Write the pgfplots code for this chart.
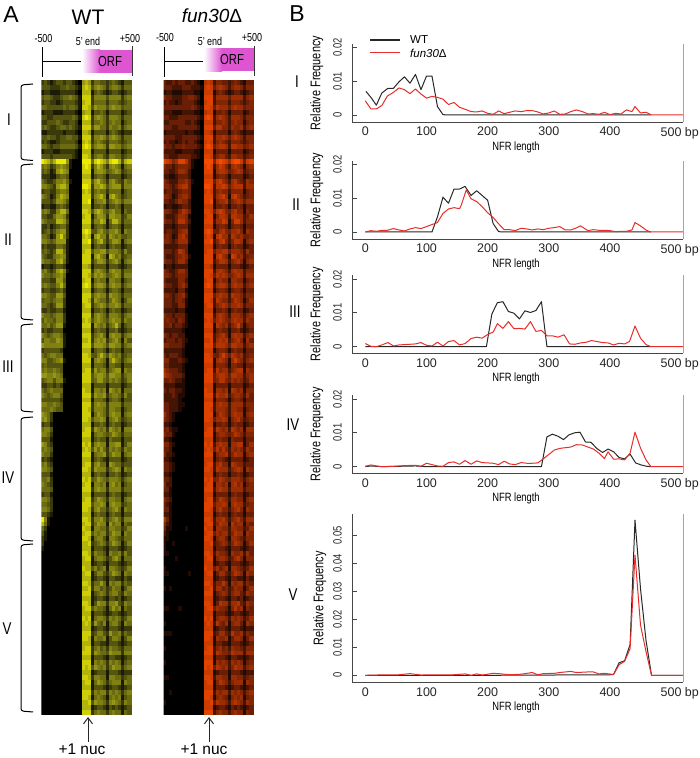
\documentclass[border=0pt]{standalone}
\usepackage{pgfplots}
\usepackage{pgfplotstable}
\pgfplotsset{compat=1.18}
\usepackage{fontspec}
\setmainfont{Liberation Sans}
\usetikzlibrary{arrows.meta}
\newcommand\cond[1]{\scalebox{0.78}[1]{#1}}
\definecolor{axg}{RGB}{70,70,70}
\definecolor{rg}{RGB}{165,165,165}
\definecolor{wtc}{RGB}{40,40,40}
\definecolor{muc}{RGB}{232,45,40}
\definecolor{pk}{RGB}{222,85,210}
\pgfplotstableread[header=false]{
2 3 2 1 2 3 3 2 3 3 2 1 0 0  6 7 6  2  4 4 3 3  2  3 4 3 2  1  3 3  3 2 2 3 2 3 3 2 2 3 2 1 0 0
3 3 3 2 2 2 3 3 4 3 3 2 1 0  7 8 7  3  5 6 5 4  2  4 5 5 4  2  4 4  3 3 3 2 2 2 3 3 3 2 2 2 1 0
1 2 2 1 1 1 2 2 2 2 2 1 0 0  7 7 7  1  3 4 3 2  1  2 3 3 2  1  2 3  1 2 2 1 1 1 2 2 2 2 1 1 0 0
3 4 4 3 2 2 3 4 4 5 4 3 1 0  8 8 8  2  5 5 5 5  3  5 5 5 5  2  4 5  4 3 3 2 2 2 3 3 4 4 3 2 0 0
2 3 3 2 2 1 2 3 3 3 3 2 1 0  7 8 8  2  4 4 4 4  2  4 4 4 3  2  3 4  2 3 2 2 1 2 3 3 3 3 2 1 0 0
4 4 3 3 3 3 3 4 3 4 4 3 1 0  8 8 7  3  6 5 5 5  3  5 6 5 5  3  4 4  3 3 3 3 3 3 3 3 3 4 3 2 1 0
1 2 2 2 1 1 1 2 2 2 2 1 0 0  6 7 7  1  3 3 4 3  1  3 3 3 3  1  2 3  2 2 2 1 1 1 2 2 2 2 1 1 0 0
3 3 2 2 3 3 3 3 3 3 4 3 1 0  8 9 8  2  5 6 5 4  2  5 5 5 4  2  4 4  3 3 2 2 2 3 3 3 3 3 3 2 1 0
2 2 3 3 3 4 3 2 2 3 3 2 0 0  7 7 7  2  4 4 5 4  2  4 5 4 4  1  3 4  2 2 3 3 3 3 3 2 2 3 2 1 0 0
3 4 3 2 2 3 4 4 3 4 3 2 1 0  8 8 8  3  6 6 4 4  2  5 4 4 5  2  4 5  3 3 3 2 2 3 3 3 3 3 3 2 0 0
1 1 2 2 2 2 2 1 2 2 2 1 0 0  7 7 6  1  3 3 3 3  1  3 4 3 2  1  2 2  1 2 2 2 2 2 2 1 2 2 1 1 0 0
3 3 4 3 3 2 3 3 4 4 3 3 1 0  8 8 8  2  5 5 6 5  3  5 6 5 4  2  4 4  3 3 3 3 2 2 3 3 3 3 3 2 1 0
2 3 2 1 1 2 3 3 3 3 3 2 0 0  7 8 7  2  4 5 4 3  2  4 4 4 3  2  3 4  2 3 2 2 1 2 3 2 3 3 2 1 0 0
4 4 3 2 3 3 4 4 4 4 4 3 1 0  8 9 8  3  5 6 6 5  2  6 6 5 5  3  4 5  4 3 3 2 3 3 4 3 3 3 3 2 1 0
1 2 2 2 1 1 2 2 2 2 2 1 0 0  7 7 7  1  3 3 3 3  1  3 3 3 3  1  2 3  2 2 2 2 1 1 2 2 2 2 1 1 0 0
3 3 3 2 3 3 3 3 3 3 2 1 0 0  8 8 7  2  4 5 5 3  2  5 5 4 4  2  3 4  3 3 2 2 2 3 3 3 3 2 2 1 0 0
9 8 7 5 7 9 9 9 6 1 0 0 0 0  9 9 9  4  8 9 8 7  5  8 9 9 7  3  7 8  8 7 6 4 5 8 8 6 3 1 0 0 0 0
4 5 4 2 3 5 6 5 4 1 0 0 0 0  8 9 8  2  5 7 6 4  2  5 6 5 4  1  4 5  4 3 3 2 3 4 4 4 3 1 0 0 0 0
3 4 3 1 2 6 7 6 5 0 0 0 0 0  8 8 8  1  5 6 6 5  3  4 5 6 5  2  3 4  3 3 2 2 3 5 5 4 2 0 0 0 0 0
2 2 2 1 1 3 4 4 3 0 0 0 0 0  7 7 7  1  3 4 4 3  1  3 3 3 3  1  2 3  2 2 1 1 2 3 3 3 2 0 0 0 0 0
4 3 2 2 3 5 5 6 4 1 0 0 0 0  8 8 8  3  6 7 5 4  2  5 6 4 3  2  5 4  4 3 2 2 2 4 4 5 3 1 0 0 0 0
5 5 4 3 2 6 7 7 5 0 0 0 0 0  9 9 8  2  6 6 7 6  3  5 6 6 6  2  5 5  4 4 3 2 3 5 6 6 3 0 0 0 0 0
2 3 3 2 2 4 5 5 4 0 0 0 0 0  7 8 7  2  4 5 4 4  2  4 4 4 4  1  3 4  2 3 3 2 2 3 4 4 3 0 0 0 0 0
5 4 3 1 2 5 7 6 5 0 0 0 0 0  8 8 8  2  5 6 7 5  1  6 7 5 4  2  3 4  4 4 3 1 2 4 5 5 3 0 0 0 0 0
3 3 3 2 3 6 6 5 3 0 0 0 0 0  8 8 9  1  4 5 5 6  2  4 5 6 5  3  5 5  3 3 2 2 3 5 4 4 2 0 0 0 0 0
1 2 2 1 1 3 4 3 2 0 0 0 0 0  7 7 7  1  3 3 4 3  1  3 3 4 3  1  3 3  1 2 2 1 1 2 3 3 2 0 0 0 0 0
4 5 4 2 2 5 7 7 4 0 0 0 0 0  8 8 7  3  6 7 6 4  3  5 6 4 4  1  4 3  4 4 3 2 2 4 6 5 3 0 0 0 0 0
3 3 2 2 4 6 6 5 2 0 0 0 0 0  7 8 8  1  4 6 6 5  2  6 6 5 5  2  3 5  3 2 2 2 3 5 5 4 1 0 0 0 0 0
5 4 3 3 3 7 7 6 3 0 0 0 0 0  8 8 8  2  5 5 7 6  1  4 7 7 5  2  4 4  4 3 3 2 3 6 6 4 2 0 0 0 0 0
2 2 3 1 2 3 4 4 2 0 0 0 0 0  7 7 7  1  3 4 4 3  1  3 4 4 3  1  3 3  2 2 2 1 2 3 3 3 1 0 0 0 0 0
2 3 4 2 3 5 6 6 2 0 0 0 0 0  8 9 8  3  3 5 6 4  3  5 5 6 4  1  5 4  2 3 3 2 2 4 5 5 1 0 0 0 0 0
4 4 3 1 2 6 8 5 2 0 0 0 0 0  7 8 7  1  6 7 5 5  2  6 5 4 5  3  3 4  3 4 3 1 2 5 6 4 1 0 0 0 0 0
5 5 4 3 4 6 6 6 1 0 0 0 0 0  8 8 9  2  4 6 7 4  2  4 6 6 5  1  4 5  4 4 3 2 3 5 5 5 1 0 0 0 0 0
2 3 2 2 2 4 4 3 1 0 0 0 0 0  7 7 7  1  3 4 3 3  1  3 4 3 3  1  2 3  2 2 2 2 2 3 3 3 0 0 0 0 0 0
3 4 3 2 3 7 7 4 1 0 0 0 0 0  7 8 8  3  5 5 6 6  3  5 5 5 4  2  5 3  3 3 3 2 3 6 5 3 0 0 0 0 0 0
4 3 2 2 4 5 6 5 1 0 0 0 0 0  8 8 8  1  6 7 5 4  1  7 6 4 5  2  3 4  3 2 2 2 3 4 5 4 1 0 0 0 0 0
5 4 4 3 3 6 7 4 1 0 0 0 0 0  8 8 8  2  4 6 6 5  2  4 5 6 4  1  4 5  4 3 3 2 3 5 5 3 0 0 0 0 0 0
1 2 2 1 2 3 3 2 0 0 0 0 0 0  7 7 6  1  3 3 3 3  1  3 3 3 2  1  2 3  1 2 2 1 2 2 2 2 0 0 0 0 0 0
4 5 3 2 3 6 7 5 1 0 0 0 0 0  8 8 8  2  5 6 5 4  2  5 6 5 5  2  4 4  4 3 2 2 3 5 5 3 0 0 0 0 0 0
5 4 4 3 4 5 6 4 0 0 0 0 0 0  8 8 7  3  6 5 6 5  3  4 5 6 5  2  5 5  4 4 3 2 3 4 4 3 0 0 0 0 0 0
3 3 3 2 2 6 6 3 0 0 0 0 0 0  7 8 8  1  4 5 4 4  1  5 5 4 4  1  3 4  3 2 2 2 2 4 4 2 0 0 0 0 0 0
4 5 4 3 3 5 7 4 0 0 0 0 0 0  8 9 8  2  5 6 6 5  2  5 6 5 5  2  4 5  4 3 3 2 2 4 5 3 0 0 0 0 0 0
2 3 3 2 2 3 4 2 0 0 0 0 0 0  7 7 7  1  3 4 4 3  1  3 4 4 3  1  3 3  2 2 2 2 1 3 3 1 0 0 0 0 0 0
5 5 4 3 3 6 6 3 0 0 0 0 0 0  8 8 8  3  5 6 5 5  2  6 5 5 4  2  4 4  4 4 3 2 3 4 5 2 0 0 0 0 0 0
3 4 4 3 4 5 5 2 0 0 0 0 0 0  8 8 7  2  6 5 4 4  2  4 6 5 4  1  3 5  3 3 3 2 3 4 3 1 0 0 0 0 0 0
4 4 3 2 3 6 6 2 0 0 0 0 0 0  7 8 8  2  4 5 6 5  3  5 5 6 5  2  4 4  3 3 3 2 2 4 4 1 0 0 0 0 0 0
2 2 3 2 2 3 3 1 0 0 0 0 0 0  7 7 7  1  3 3 4 3  1  3 4 3 3  1  2 3  2 2 2 2 1 2 2 0 0 0 0 0 0 0
5 4 4 3 4 5 5 2 0 0 0 0 0 0  8 8 8  2  5 6 5 4  2  5 5 5 4  2  4 5  4 3 3 2 3 3 3 1 0 0 0 0 0 0
3 5 4 4 3 5 5 2 0 0 0 0 0 0  7 8 7  3  5 6 5 4  3  5 6 5 5  2  5 4  3 4 3 3 2 4 3 1 0 0 0 0 0 0
4 4 5 3 4 6 6 1 0 0 0 0 0 0  8 8 8  1  6 5 4 5  2  4 5 7 4  1  3 4  3 3 4 2 3 3 2 1 0 0 0 0 0 0
2 3 2 2 3 3 3 0 0 0 0 0 0 0  7 7 7  1  3 4 3 3  1  3 3 4 2  1  2 3  2 2 2 2 2 2 1 0 0 0 0 0 0 0
5 4 3 4 5 5 4 1 0 0 0 0 0 0  8 8 8  2  4 5 6 4  1  5 6 5 5  2  4 5  4 3 2 3 3 2 2 0 0 0 0 0 0 0
3 5 5 4 4 6 5 1 0 0 0 0 0 0  7 7 8  2  5 6 5 6  2  4 5 6 4  1  5 3  2 3 3 3 2 3 2 1 0 0 0 0 0 0
6 5 5 5 5 5 5 1 0 0 0 0 0 0  8 8 8  3  6 6 6 5  3  6 6 5 5  2  4 5  4 4 3 3 3 3 2 0 0 0 0 0 0 0
2 3 3 3 3 3 2 0 0 0 0 0 0 0  7 7 7  1  3 4 4 3  1  3 4 3 3  1  3 3  2 2 2 2 2 2 1 0 0 0 0 0 0 0
4 3 4 5 5 4 4 0 0 0 0 0 0 0  8 8 7  3  3 5 7 5  3  6 5 4 5  2  3 4  3 2 3 3 3 2 1 0 0 0 0 0 0 0
5 5 3 3 4 5 6 1 0 0 0 0 0 0  8 8 8  1  5 6 5 4  1  5 7 5 4  2  4 5  4 4 2 2 2 3 2 1 0 0 0 0 0 0
3 4 3 3 3 3 3 0 0 0 0 0 0 0  7 7 7  1  4 4 4 3  1  4 4 3 3  1  3 3  3 3 2 2 2 2 1 0 0 0 0 0 0 0
4 5 4 4 5 4 3 0 0 0 0 0 0 0  7 8 8  2  6 4 5 5  2  4 5 6 6  1  5 4  5 4 3 3 3 2 1 0 0 0 0 0 0 0
6 6 5 5 6 5 4 0 0 0 0 0 0 0  8 8 8  3  5 6 6 5  3  6 6 5 5  2  4 5  6 5 4 3 3 3 2 0 0 0 0 0 0 0
3 4 5 5 3 5 5 1 0 0 0 0 0 0  8 8 8  3  4 6 6 4  3  5 4 5 4  2  3 5  3 3 4 3 2 2 1 0 0 0 0 0 0 0
2 2 3 3 2 3 2 0 0 0 0 0 0 0  7 7 7  1  3 3 3 3  1  3 3 3 3  1  2 3  2 2 2 2 1 1 1 0 0 0 0 0 0 0
4 3 4 5 4 4 4 0 0 0 0 0 0 0  8 7 7  1  5 5 4 5  1  6 5 4 5  1  4 4  3 2 3 3 2 2 1 0 0 0 0 0 0 0
5 4 3 4 5 5 3 0 0 0 0 0 0 0  8 8 8  2  6 5 5 6  2  4 5 5 4  2  5 3  2 2 2 3 2 1 1 0 0 0 0 0 0 0
3 3 3 3 3 3 2 0 0 0 0 0 0 0  7 7 7  1  4 4 4 3  1  3 4 4 3  1  3 3  2 2 2 2 2 1 0 0 0 0 0 0 0 0
5 5 4 4 5 4 3 0 0 0 0 0 0 0  8 8 8  2  5 6 5 5  2  5 5 5 5  2  4 4  3 3 2 2 2 1 1 0 0 0 0 0 0 0
4 4 4 5 4 3 3 0 0 0 0 0 0 0  8 8 7  2  5 5 5 4  2  5 5 4 4  1  3 4  3 3 2 2 2 1 0 0 0 0 0 0 0 0
6 5 4 2 0 0 0 0 0 0 0 0 0 0  8 8 8  1  4 6 5 4  2  5 6 5 5  1  4 5  5 3 2 1 0 0 0 0 0 0 0 0 0 0
5 6 4 2 0 0 0 0 0 0 0 0 0 0  8 8 7  3  5 5 6 5  1  4 5 6 4  2  3 4  4 3 2 1 0 0 0 0 0 0 0 0 0 0
2 3 3 1 0 0 0 0 0 0 0 0 0 0  7 7 7  1  3 3 4 3  1  3 4 3 3  1  2 3  2 2 1 0 0 0 0 0 0 0 0 0 0 0
4 5 5 3 0 0 0 0 0 0 0 0 0 0  7 8 8  2  6 5 4 5  2  6 5 4 5  1  5 5  3 4 2 1 1 0 0 0 0 0 0 0 0 0
5 5 4 2 0 0 0 0 0 0 0 0 0 0  8 8 8  1  4 5 5 4  3  4 6 5 4  2  4 4  4 3 3 1 0 0 0 0 0 0 0 0 0 0
3 3 3 1 0 0 0 0 0 0 0 0 0 0  7 7 7  1  3 4 3 3  1  4 3 3 3  1  3 3  2 2 1 0 0 0 0 0 0 0 0 0 0 0
6 5 3 2 0 0 0 0 0 0 0 0 0 0  8 7 8  2  5 6 5 5  1  5 5 6 6  1  3 5  4 4 2 1 0 0 0 0 0 0 0 0 0 0
4 5 4 3 0 0 0 0 0 0 0 0 0 0  7 8 7  3  6 4 6 4  2  5 4 5 4  2  5 4  3 3 2 0 0 0 0 0 0 0 0 0 0 0
5 4 4 2 0 0 0 0 0 0 0 0 0 0  8 8 8  1  4 5 5 6  2  4 6 5 5  1  4 5  4 2 2 1 0 0 0 0 0 0 0 0 0 0
2 3 2 1 0 0 0 0 0 0 0 0 0 0  7 7 7  1  3 4 3 2  1  3 3 3 3  1  2 3  2 2 1 0 0 0 0 0 0 0 0 0 0 0
4 5 3 2 0 0 0 0 0 0 0 0 0 0  7 8 8  2  5 6 4 4  1  6 5 4 4  2  3 3  3 3 2 1 0 0 0 0 0 0 0 0 0 0
5 5 4 3 0 0 0 0 0 0 0 0 0 0  8 8 7  2  6 5 5 5  2  4 5 6 5  1  5 4  3 3 2 1 0 0 0 0 0 0 0 0 0 0
3 3 3 1 0 0 0 0 0 0 0 0 0 0  7 7 7  1  3 4 3 3  1  3 3 4 3  1  2 3  2 2 1 0 0 0 0 0 0 0 0 0 0 0
4 4 5 2 0 0 0 0 0 0 0 0 0 0  8 7 8  3  4 6 5 4  3  5 5 5 4  2  4 5  3 3 2 0 0 0 0 0 0 0 0 0 0 0
5 4 3 2 0 0 0 0 0 0 0 0 0 0  7 8 8  1  5 5 4 5  1  5 6 4 5  1  3 4  4 2 2 0 0 0 0 0 0 0 0 0 0 0
4 4 4 3 0 0 0 0 0 0 0 0 0 0  8 8 8  2  5 6 5 5  2  5 5 5 5  2  4 4  3 3 1 0 0 0 0 0 0 0 0 0 0 0
2 3 3 1 0 0 0 0 0 0 0 0 0 0  7 7 7  1  3 3 3 3  1  3 4 3 3  1  2 3  2 2 1 0 0 0 0 0 0 0 0 0 0 0
5 5 4 2 0 0 0 0 0 0 0 0 0 0  7 8 8  2  4 6 5 4  2  5 5 4 4  1  4 5  4 3 2 0 0 0 0 0 0 0 0 0 0 0
4 4 3 2 0 0 0 0 0 0 0 0 0 0  8 8 8  3  5 5 6 5  1  5 6 5 5  2  3 4  3 2 1 0 0 0 0 0 0 0 0 0 0 0
5 5 4 2 0 0 0 0 0 0 0 0 0 0  8 8 7  2  5 6 4 4  2  4 5 6 4  1  5 4  3 3 1 0 0 0 0 0 0 0 0 0 0 0
3 3 2 1 0 0 0 0 0 0 0 0 0 0  7 7 7  1  3 4 3 3  1  3 4 3 3  1  3 3  2 2 1 0 0 0 0 0 0 0 0 0 0 0
9 5 1 0 0 0 0 0 0 0 0 0 0 0  8 8 7  2  5 5 6 4  2  4 5 6 4  2  5 5  6 3 1 0 0 0 0 0 0 0 0 0 0 0
7 4 1 0 0 0 0 0 0 0 0 0 0 0  7 8 8  2  4 6 5 5  1  6 4 5 5  1  4 3  4 2 1 0 0 0 0 0 0 0 0 0 0 0
4 2 0 0 0 0 0 0 0 0 0 0 0 0  8 7 7  1  5 5 4 4  2  5 5 4 4  2  3 5  3 1 1 0 0 0 0 1 0 0 0 0 0 0
3 1 0 0 0 0 0 0 0 0 0 0 0 0  7 8 8  3  5 4 5 5  2  4 6 5 5  1  5 4  2 1 0 0 0 0 0 0 0 0 0 0 0 0
2 1 0 0 0 0 0 0 0 0 0 0 0 0  8 8 7  1  4 5 5 3  1  5 5 4 3  2  4 4  1 1 0 0 0 0 0 0 0 0 0 0 0 0
2 0 0 0 0 0 0 0 0 0 0 0 0 0  7 7 8  2  3 4 5 4  2  4 6 5 4  1  3 5  1 0 0 1 0 0 0 0 0 0 0 0 0 0
1 0 0 0 0 0 0 0 0 0 0 0 0 0  7 7 7  1  3 3 3 2  1  3 3 3 2  1  2 3  1 0 0 0 0 0 0 0 0 0 0 0 0 0
0 0 0 0 0 0 0 0 0 0 0 0 0 0  8 8 7  2  5 4 4 3  1  5 4 4 5  2  5 3  1 1 0 0 0 0 0 0 0 0 0 0 0 0
0 0 0 0 0 0 0 0 0 0 0 0 0 0  7 8 8  1  4 5 5 4  2  3 5 6 4  1  4 4  0 0 0 0 1 0 0 0 0 0 0 0 0 0
0 0 0 0 0 0 0 0 0 0 0 0 0 0  7 7 7  1  2 3 3 2  1  3 3 3 2  1  2 3  0 0 0 0 0 0 0 0 0 0 0 0 0 0
0 0 0 0 0 0 0 0 0 0 0 0 0 0  8 7 7  3  5 3 4 5  1  5 5 4 3  2  3 5  1 0 0 0 0 0 0 0 0 0 0 0 0 0
0 0 0 0 0 0 0 0 0 0 0 0 0 0  7 8 8  1  3 5 5 3  2  4 6 5 4  1  5 4  1 1 0 0 0 0 0 0 1 0 0 0 0 0
0 0 0 0 0 0 0 0 0 0 0 0 0 0  7 7 7  1  2 3 3 2  1  3 3 2 2  1  3 2  0 0 0 0 0 0 0 0 0 0 0 0 0 0
0 0 0 0 0 0 0 0 0 0 0 0 0 0  8 8 7  2  4 4 6 4  1  5 4 5 5  2  4 3  0 0 0 0 0 0 0 0 0 0 0 0 0 0
0 0 0 0 0 0 0 0 0 0 0 0 0 0  7 7 8  2  5 5 3 4  2  3 5 4 4  1  3 5  1 0 1 0 0 0 0 0 0 0 0 0 0 0
0 0 0 0 0 0 0 0 0 0 0 0 0 0  8 8 8  1  3 4 5 4  2  4 5 5 3  2  5 4  0 0 0 0 0 0 0 0 0 0 0 0 0 0
0 0 0 0 0 0 0 0 0 0 0 0 0 0  7 7 7  1  2 3 3 2  1  3 3 2 3  1  2 3  0 0 0 0 0 0 0 0 0 0 0 0 0 0
0 0 0 0 0 0 0 0 0 0 0 0 0 0  8 8 7  1  3 6 5 5  2  5 5 6 3  2  5 4  0 0 0 0 0 0 0 0 0 0 0 0 0 0
0 0 0 0 0 0 0 0 0 0 0 0 0 0  7 8 8  3  5 4 4 3  1  4 6 4 5  1  4 3  1 1 0 0 0 1 0 0 0 0 0 0 0 0
0 0 0 0 0 0 0 0 0 0 0 0 0 0  7 7 7  1  3 3 3 2  1  2 3 3 2  1  2 3  0 0 0 0 0 0 0 0 0 0 0 0 0 0
0 0 0 0 0 0 0 0 0 0 0 0 0 0  8 7 8  1  4 5 5 4  2  5 4 5 4  2  3 5  0 0 0 0 0 0 0 0 0 0 0 0 0 0
0 0 0 0 0 0 0 0 0 0 0 0 0 0  7 8 7  2  6 4 3 5  1  4 5 5 3  1  5 4  1 0 0 0 0 0 0 0 0 0 0 0 0 0
0 0 0 0 0 0 0 0 0 0 0 0 0 0  7 7 7  1  2 3 3 2  1  3 3 3 2  1  2 2  0 0 0 0 0 0 0 0 0 0 0 0 0 0
0 0 0 0 0 0 0 0 0 0 0 0 0 0  8 8 8  2  3 5 5 3  2  6 4 4 5  2  4 3  1 1 1 0 0 0 0 0 0 0 0 0 0 0
0 0 0 0 0 0 0 0 0 0 0 0 0 0  8 8 7  1  5 4 4 5  1  3 5 5 4  1  3 5  0 0 0 0 0 0 0 0 0 0 0 0 0 0
0 0 0 0 0 0 0 0 0 0 0 0 0 0  7 7 7  1  3 3 2 2  1  3 3 3 2  1  2 3  0 0 0 0 0 0 0 0 0 0 0 0 0 0
0 0 0 0 0 0 0 0 0 0 0 0 0 0  7 8 8  2  4 5 3 4  2  5 4 4 3  2  4 4  1 0 0 0 0 0 0 0 0 0 0 0 0 0
0 0 0 0 0 0 0 0 0 0 0 0 0 0  8 8 8  2  6 5 4 4  3  6 5 5 5  2  5 5  0 0 0 0 0 0 0 0 0 0 0 0 0 0
0 0 0 0 0 0 0 0 0 0 0 0 0 0  7 7 7  1  3 3 3 2  1  3 3 2 2  1  2 3  0 0 0 0 0 0 0 0 0 0 0 0 0 0
0 0 0 0 0 0 0 0 0 0 0 0 0 0  8 8 8  1  5 4 5 4  2  5 4 5 4  1  3 4  1 0 0 0 0 0 0 0 0 0 0 0 0 0
0 0 0 0 0 0 0 0 0 0 0 0 0 0  8 7 8  3  6 5 4 5  2  4 6 5 5  2  4 5  0 0 0 0 0 0 0 0 0 0 0 0 0 0
0 0 0 0 0 0 0 0 0 0 0 0 0 0  7 7 7  1  2 3 3 3  1  3 3 3 2  1  2 2  0 0 0 0 0 0 0 0 0 0 0 0 0 0
0 0 0 0 0 0 0 0 0 0 0 0 0 0  8 8 7  2  5 5 4 4  1  5 5 4 4  2  3 4  1 1 0 0 0 0 0 0 0 0 0 0 0 0
0 0 0 0 0 0 0 0 0 0 0 0 0 0  7 8 8  1  4 6 5 4  2  4 5 5 5  1  5 4  0 0 0 0 0 0 0 0 0 0 0 0 0 0
0 0 0 0 0 0 0 0 0 0 0 0 0 0  7 7 7  1  3 3 3 2  1  2 3 3 2  1  2 3  0 0 0 0 0 0 0 0 0 0 0 0 0 0
0 0 0 0 0 0 0 0 0 0 0 0 0 0  8 8 8  2  5 4 5 5  2  5 4 5 4  2  4 5  0 0 1 0 0 0 0 0 0 0 0 0 0 0
0 0 0 0 0 0 0 0 0 0 0 0 0 0  8 8 7  1  4 5 4 3  1  4 5 4 5  1  3 4  0 0 0 0 0 0 0 0 0 0 0 0 0 0
0 0 0 0 0 0 0 0 0 0 0 0 0 0  7 7 8  3  6 5 5 4  2  5 6 5 4  2  5 4  1 0 0 0 0 0 0 0 0 0 0 0 0 0
0 0 0 0 0 0 0 0 0 0 0 0 0 0  7 7 7  1  2 3 3 2  1  3 2 3 2  1  2 3  0 0 0 0 0 0 0 0 0 0 0 0 0 0
0 0 0 0 0 0 0 0 0 0 0 0 0 0  8 8 8  2  4 5 4 4  2  4 5 4 4  1  4 3  0 0 0 0 0 0 0 0 0 0 0 0 0 0
0 0 0 0 0 0 0 0 0 0 0 0 0 0  8 8 8  2  4 5 4 4  2  4 5 4 4  1  4 3  0 0 0 0 0 0 0 0 0 0 0 0 0 0
}\heat
\pgfplotsset{
  heat/.style={scale only axis,width=90.5pt,height=635pt,xmin=0,xmax=30,ymin=0,ymax=128,y dir=reverse,
    axis lines=none,point meta min=0,point meta max=9},
  hline/.style={mesh,shader=flat corner,line width=3.2pt,line cap=butt,forget plot,point meta=explicit},
  nfr/.style={scale only axis,width=331pt,xmin=-21.3,xmax=520,scaled y ticks=false,
    axis x line*=bottom,axis y line*=left,axis line style={-,axg,line width=.8pt},
    xtick={0,100,200,300,400,500},
    xticklabels={0,100,200,300,400,{500\rlap{ bp}}},
    xtick style={draw=none},
    ytick style={axg,line width=.7pt},major tick length=5pt,
    tick label style={font=\fontsize{12.5}{13}\selectfont,text=black!85},
    xticklabel style={yshift=-1.5pt},
    yticklabel style={rotate=90,anchor=south,font=\fontsize{12}{13}\selectfont,yshift=7pt},
    xlabel={\cond{NFR length}},ylabel={\cond{Relative Frequency}},
    every axis x label/.style={at={(axis description cs:0.4946,0)},anchor=center,yshift=-25pt,font=\fontsize{12}{12}\selectfont},
    every axis y label/.style={at={(axis description cs:0,0.5)},xshift=-35.6pt,rotate=90,anchor=center,font=\fontsize{14}{14}\selectfont},
    clip=false},
  wt/.style={wtc,line width=1pt,line join=round},
  mu/.style={muc,line width=1pt,line join=round},
}
\newcommand\T[4][]{\node[inner sep=0pt,anchor=center,#1] at ({#2},{758-(#3)}) {#4};}
\begin{document}
\begin{tikzpicture}[x=1pt,y=1pt]
\path[use as bounding box] (0,0) rectangle (700,758);
% ---------- line panels
\begin{axis}[nfr,at={(352.3pt,636pt)},anchor=south west,height=78pt,ymin=-0.00207,ymax=0.021,
  ytick={0,0.01,0.02},yticklabels={\cond{0},\cond{0.01},\cond{0.02}}]
\addplot[wt] coordinates {(1,.007)(10,.005)(18,.0029)(27,.0065)(37,.0079)(46,.0079)(55,.0098)(64,.0113)(73,.0094)(82,.012)(91,.0075)(100,.0115)(109,.0115)(118,.0025)(127,.0001)(136,0)(300,0)(467,0)};
\addplot[mu] coordinates {(0,.0042)(9,.0018)(18,.0018)(27,.0028)(36,.0056)(46,.0067)(55,.008)(64,.0075)(73,.0063)(82,.0077)(91,.0062)(100,.005)(109,.0055)(118,.0052)(127,.0047)(136,.0031)(145,.0037)(154,.0023)(163,.0017)(173,.001)(182,.0009)(191,.0012)(200,.0005)(209,.0002)(218,.0012)(227,.0004)(236,.0008)(245,.0012)(255,.001)(264,.0013)(273,.0013)(282,.0009)(291,.0003)(300,.0006)(309,.0012)(318,.0002)(327,.0003)(336,.001)(345,.0015)(355,.001)(364,.0003)(373,.0004)(382,.0002)(391,.0008)(400,.0001)(409,.0005)(418,.0003)(427,.0015)(436,.001)(441,.0025)(450,.0006)(459,.0008)(468,0)(520,0)};
\draw[rg,line width=1.1pt] (rel axis cs:1,0) -- (rel axis cs:1,1);
\end{axis}
\begin{axis}[nfr,at={(352.3pt,519pt)},anchor=south west,height=78pt,ymin=-0.00207,ymax=0.021,
  ytick={0,0.01,0.02},yticklabels={\cond{0},\cond{0.01},\cond{0.02}}]
\addplot[wt] coordinates {(0,0)(109,0)(118,.0045)(127,.0103)(136,.0085)(145,.0127)(154,.0127)(163,.0135)(173,.0108)(182,.0122)(191,.0108)(200,.0094)(209,.0025)(218,.0001)(227,0)(467,0)};
\addplot[mu] coordinates {(0,0)(9,.0004)(18,.0002)(27,.0005)(36,.0005)(46,.001)(55,.0006)(64,.0003)(73,.0009)(82,.0013)(91,.001)(100,.0016)(109,.0022)(118,.0028)(127,.0055)(136,.0068)(145,.0072)(154,.0069)(157,.008)(165,.0124)(173,.0098)(182,.009)(191,.0075)(200,.0057)(209,.0043)(218,.0024)(227,.0007)(236,.0007)(245,.0004)(255,.0011)(264,.0009)(273,.0006)(282,.0009)(291,.0007)(300,.0011)(309,.0013)(318,.0016)(327,.0006)(336,.0006)(345,.0012)(352,.0018)(364,.0004)(373,.0007)(382,.0005)(391,.0005)(400,.0004)(409,.0001)(418,.0002)(427,.0002)(436,.0006)(441,.0028)(450,.0018)(459,.0006)(466,0)(520,0)};
\draw[rg,line width=1.1pt] (rel axis cs:1,0) -- (rel axis cs:1,1);
\end{axis}
\begin{axis}[nfr,at={(352.3pt,404.7pt)},anchor=south west,height=78.3pt,ymin=-0.00197,ymax=0.0212,
  ytick={0,0.01,0.02},yticklabels={\cond{0},\cond{0.01},\cond{0.02}}]
\addplot[wt] coordinates {(0,0)(198,0)(207,.0097)(216,.013)(225,.0133)(234,.0104)(243,.0099)(252,.0082)(261,.0106)(270,.0101)(279,.0107)(288,.0133)(297,0)(467,0)};
\addplot[mu] coordinates {(0,.0009)(9,.0001)(18,0)(27,.0005)(37,.0012)(46,.0002)(55,.0005)(64,.0006)(73,.0007)(82,.0008)(91,.0012)(100,.0004)(109,.0002)(118,.0013)(127,.0002)(136,.0015)(145,.0018)(154,.0005)(163,.0009)(173,.0024)(182,.0028)(191,.0025)(200,.0036)(209,.0043)(216,.0068)(225,.0054)(234,.0074)(243,.0053)(252,.0054)(261,.0052)(270,.0074)(279,.0045)(288,.0048)(297,.0032)(306,.0032)(315,.0028)(325,.0035)(334,.0008)(343,.0007)(352,.0011)(361,.0013)(370,.0018)(379,.0015)(388,.0012)(397,.0011)(406,.0005)(415,.001)(424,.0008)(432,.0015)(441,.0061)(450,.0025)(459,.0006)(467,0)(520,0)};
\draw[rg,line width=1.1pt] (rel axis cs:1,0) -- (rel axis cs:1,1);
\end{axis}
\begin{axis}[nfr,at={(352.3pt,284.7pt)},anchor=south west,height=78.3pt,ymin=-0.00197,ymax=0.0212,
  ytick={0,0.01,0.02},yticklabels={\cond{0},\cond{0.01},\cond{0.02}}]
\addplot[wt] coordinates {(0,0)(9,.0002)(18,.0001)(27,0)(55,.0001)(82,.0002)(100,0)(288,0)(297,.0088)(306,.0096)(315,.009)(324,.008)(333,.0094)(342,.01)(351,.0102)(360,.0073)(369,.0072)(379,.0053)(388,.0042)(397,.0052)(406,.0044)(415,.0027)(424,.0023)(433,.0037)(442,.0011)(451,.0005)(460,.0001)(467,0)};
\addplot[mu] coordinates {(0,.0001)(9,.0005)(18,.0002)(27,0)(46,.0001)(64,.0003)(82,.0004)(91,.0001)(100,.001)(109,.0006)(118,.0002)(127,.0001)(136,.0012)(145,.0014)(154,.0007)(163,.0018)(173,.0007)(182,.0017)(191,.0012)(200,.0011)(209,.001)(218,.0006)(227,.0016)(236,.0008)(245,.0006)(255,.0012)(264,.001)(273,.001)(282,.0011)(291,.0023)(300,.0036)(309,.0049)(318,.0054)(327,.0056)(336,.0058)(345,.0065)(355,.0064)(364,.0058)(373,.0052)(382,.004)(391,.0024)(397,.0044)(406,.0022)(415,.0023)(424,.002)(433,.004)(441,.0102)(450,.0055)(459,.002)(467,0)(520,0)};
\draw[rg,line width=1.1pt] (rel axis cs:1,0) -- (rel axis cs:1,1);
\end{axis}
\begin{axis}[nfr,at={(352.3pt,75.7pt)},anchor=south west,height=168.3pt,ymin=-0.0025,ymax=0.0577,
  ytick={0,0.01,0.02,0.03,0.04,0.05},yticklabels={\cond{0},\cond{0.01},\cond{0.02},\cond{0.03},\cond{0.04},\cond{0.05}},
  every axis y label/.append style={yshift=-3pt}]
\addplot[wt] coordinates {(0,0)(200,0)(400,.0002)(406,.0003)(415,.0045)(424,.0052)(433,.011)(441,.0555)(450,.031)(459,.0125)(468,0)(520,0)};
\addplot[mu] coordinates {(0,0)(18,.0001)(36,.0002)(55,.0002)(73,.0006)(91,.0001)(118,.0002)(145,.0002)(163,.0005)(173,0)(182,.0005)(191,.0001)(209,.0007)(218,.0006)(236,.0002)(255,.0004)(273,.001)(282,.0002)(291,.0006)(309,.0007)(318,.001)(336,.0014)(345,.001)(364,.0012)(373,.0012)(382,.0005)(391,.0007)(406,.0003)(415,.0038)(424,.005)(433,.0095)(441,.043)(450,.018)(459,.0085)(468,0)(520,0)};
\draw[rg,line width=1.1pt] (rel axis cs:1,0) -- (rel axis cs:1,1);
\end{axis}
% ---------- heat maps (columns 14-29 sit half a cell to the left; the last one is widened)
\begin{axis}[heat,at={(41.5pt,43pt)},anchor=south west,
  colormap={ywt}{rgb255=(0,0,0) rgb255=(85,85,15) rgb255=(150,150,20) rgb255=(235,235,0)}]
\addplot[hline] table[x expr=29.5,y expr=\coordindex,meta index=29]{\heat};
\pgfplotsinvokeforeach{0,...,13}{
  \addplot[hline] table[x expr=#1+0.5,y expr=\coordindex,meta index=#1]{\heat};
}
\pgfplotsinvokeforeach{14,...,29}{
  \addplot[hline] table[x expr=#1,y expr=\coordindex,meta index=#1]{\heat};
}
\end{axis}
\begin{axis}[heat,at={(163.5pt,43pt)},anchor=south west,
  colormap={rfun}{rgb255=(0,0,0) rgb255=(105,30,5) rgb255=(180,52,0) rgb255=(245,75,0)}]
\addplot[hline] table[x expr=29.5,y expr=\coordindex,meta index=29]{\heat};
\pgfplotsinvokeforeach{0,...,13}{
  \pgfmathtruncatemacro\mi{30+#1}
  \addplot[hline] table[x expr=#1+0.5,y expr=\coordindex,meta index=\mi]{\heat};
}
\pgfplotsinvokeforeach{14,...,29}{
  \addplot[hline] table[x expr=#1,y expr=\coordindex,meta index=#1]{\heat};
}
\end{axis}
% ---------- legend of the first line panel
\draw[wtc,line width=1.1pt] (370,{758-40}) -- (400,{758-40});
\draw[muc,line width=1.1pt] (370,{758-52.7}) -- (400,{758-52.7});
\node[inner sep=0pt,anchor=west] at (410,{758-40}) {\fontsize{11.5}{12}\selectfont WT};
\node[inner sep=0pt,anchor=west] at (410,{758-53}) {\fontsize{11.5}{12}\selectfont\textit{fun30}Δ};
% ---------- schematic above the heat maps
\newcommand\orf[2]{%
  \draw[black,line width=.9pt] ({#1},{758-47}) -- ({#1},{758-77});
  \draw[black,line width=.9pt] ({#1},{758-61.5}) -- ({#1+39},{758-61.5});
  \shade[left color=white,right color=pk] ({#1+40},{758-#2}) rectangle ({#1+58},{758-#2-23});
  \fill[pk] ({#1+58},{758-#2}) rectangle ({#1+90},{758-#2-23});
  \draw[black!80,line width=.9pt] ({#1+90},{758-46}) -- ({#1+90},{758-76});
  \T{#1+68}{#2+11.5}{\fontsize{14.5}{15}\selectfont\cond{ORF}}
}
\orf{42}{50}
\orf{164}{48.5}
\def\sm{\fontsize{11.5}{12}\selectfont}
\T{43.5}{39}{\sm\cond{-500}}\T{88}{41}{\sm\cond{5' end}}\T{130}{39}{\sm\cond{+500}}
\T{165}{38}{\sm\cond{-500}}\T{210}{41}{\sm\cond{5' end}}\T{252}{38}{\sm\cond{+500}}
\T{88}{17}{\fontsize{21}{22}\selectfont WT}
\T{212}{16}{\fontsize{19}{22}\selectfont\textit{fun30}Δ}
\T{11}{15}{\fontsize{23}{24}\selectfont A}
\T{297}{14}{\fontsize{23}{24}\selectfont B}
% ---------- class brackets
\newcommand\brk[2]{\draw[black,line width=1pt,rounded corners=2.5pt] (33,{758-#1}) -- (21,{758-#1-1}) -- (21,{758-#2+1}) -- (33,{758-#2});}
\brk{84}{160.5}\brk{164}{320}\brk{324}{412}\brk{417}{541}\brk{544}{712}
\def\rmn{\fontsize{17}{18}\selectfont}
\T{9}{120}{\rmn\cond{I}}\T{8}{240}{\rmn\cond{II}}\T{8}{367}{\rmn\cond{III}}\T{8}{478}{\rmn\cond{IV}}\T{7}{629}{\rmn\cond{V}}
\T{297}{82}{\rmn\cond{I}}\T{296}{205}{\rmn\cond{II}}\T{295}{312}{\rmn\cond{III}}\T{293}{425}{\rmn\cond{IV}}\T{293}{595}{\rmn\cond{V}}
% ---------- +1 nuc
\draw[black!85,line width=1pt,-{Straight Barb[length=6pt,width=9pt]}] (88,{758-742}) -- (88,{758-717});
\draw[black!85,line width=1pt,-{Straight Barb[length=6pt,width=9pt]}] (209,{758-742}) -- (209,{758-717});
\T{82}{749}{\fontsize{15.5}{16}\selectfont +1 nuc}
\T{204}{749}{\fontsize{15.5}{16}\selectfont +1 nuc}
\end{tikzpicture}
\end{document}
